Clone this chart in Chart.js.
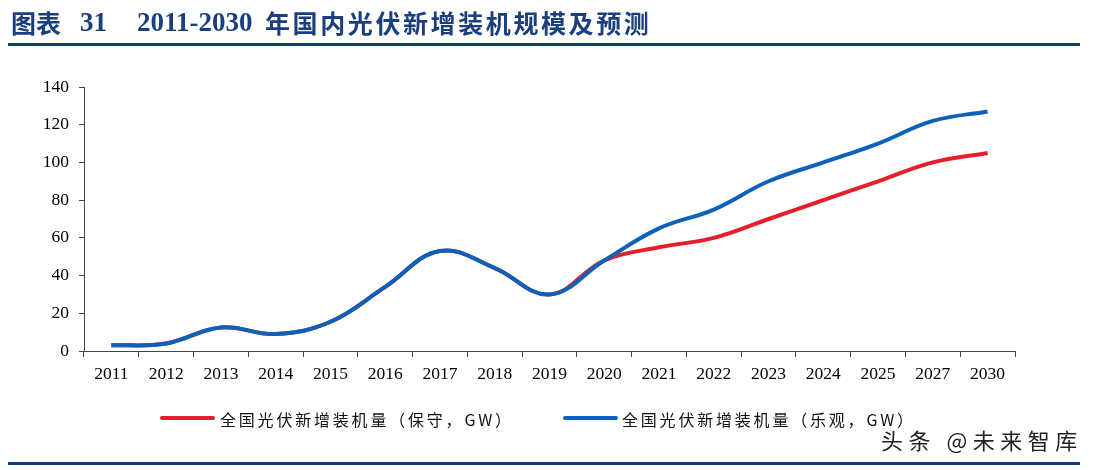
<!DOCTYPE html>
<html>
<head>
<meta charset="utf-8">
<script src="https://cdn.jsdelivr.net/npm/chart.js@4"></script>
<style>
  html, body { margin: 0; padding: 0; background: #fff; }
  #page { position: relative; width: 1096px; height: 470px; overflow: hidden; }
  #page canvas { position: absolute; left: 0; top: 0; }
  .t { position: absolute; top: 6px; color: #1B3F7E; font-weight: bold; font-size: 25px; line-height: 32px; white-space: nowrap; }
  .cjk { font-family: "Noto Sans CJK SC", sans-serif; }
  .num { font-family: "Liberation Serif", serif; font-size: 27px; }
  .rule { position: absolute; left: 8px; width: 1072px; height: 3px; background: #0D3C80; }
  .lg-line { position: absolute; height: 4px; width: 55px; border-radius: 2px; top: 416px; }
  .lg-text { position: absolute; top: 407px; font-family: "Noto Sans CJK SC", sans-serif; font-size: 16px; line-height: 24px; color: #111; letter-spacing: 2.8px; white-space: nowrap; }
  .wm { position: absolute; left: 881px; top: 424px; font-family: "Noto Sans CJK SC", sans-serif; font-size: 22px; line-height: 30px; color: #222; letter-spacing: 5.5px; white-space: nowrap; }
</style>
</head>
<body>
<div id="page">
  <canvas id="c" width="1096" height="470"></canvas>
  <div class="t cjk" style="left:11px;">图表</div>
  <div class="t num" style="left:80px;">31</div>
  <div class="t num" style="left:137px;">2011-2030</div>
  <div class="t cjk" style="left:265px; letter-spacing:2.6px;">年国内光伏新增装机规模及预测</div>
  <div class="rule" style="top:43px;"></div>

  <div class="lg-line" style="left:160px; background:#E41E2B;"></div>
  <div class="lg-text" style="left:220px;">全国光伏新增装机量（保守，GW）</div>
  <div class="lg-line" style="left:563px; background:#0B62B8;"></div>
  <div class="lg-text" style="left:622px;">全国光伏新增装机量（乐观，GW）</div>

  <div class="wm">头条 @未来智库</div>
  <div class="rule" style="top:462px;"></div>
</div>
<script>
const years = ['2011', '2012', '2013', '2014', '2015', '2016', '2017', '2018', '2019',
  '2020', '2021', '2022', '2023', '2024', '2025', '2027', '2030'];
// 保守 / 乐观 scenarios, GW
const conservative = [3, 4, 12.5, 9, 15.5, 34, 53, 44, 30, 48, 55, 60, 70, 80, 90, 100, 105];
const optimistic   = [3, 4, 12.5, 9, 15.5, 34, 53, 44, 30, 48, 65, 75, 90, 100, 110, 122, 127];
const yTicks = [0, 20, 40, 60, 80, 100, 120, 140];

const axisColor = '#444';
const tickFont = { family: 'Liberation Serif', size: 17.5 };

new Chart(document.getElementById('c').getContext('2d'), {
  type: 'line',
  data: {
    labels: years,
    datasets: [
      // optimistic first so it is painted over the shared history part
      { label: '全国光伏新增装机量（乐观，GW）', data: optimistic, borderColor: '#0B62B8', borderWidth: 4, tension: 0.4, pointRadius: 0, fill: false },
      { label: '全国光伏新增装机量（保守，GW）', data: conservative, borderColor: '#E41E2B', borderWidth: 4, tension: 0.4, pointRadius: 0, fill: false }
    ]
  },
  options: {
    responsive: false,
    animation: false,
    layout: { padding: { left: 0, right: 81, top: 87, bottom: 0 } },
    plugins: { legend: { display: false }, tooltip: { enabled: false } },
    scales: {
      x: {
        offset: true,
        grid: { offset: true, drawOnChartArea: false, drawTicks: true, tickLength: 6, color: axisColor },
        border: { display: true, color: axisColor, width: 1 },
        ticks: { color: '#000', font: tickFont, padding: 7, maxRotation: 0, autoSkip: false },
        afterFit: s => { s.height = 119; }
      },
      y: {
        min: 0, max: 140,
        afterBuildTicks: s => { s.ticks = yTicks.map(v => ({ value: v })); },
        grid: { drawOnChartArea: false, drawTicks: true, tickLength: 5, color: axisColor },
        border: { display: true, color: axisColor, width: 1 },
        ticks: { color: '#000', font: tickFont, padding: 10 },
        afterFit: s => { s.width = 84; }
      }
    }
  }
});
</script>
</body>
</html>
